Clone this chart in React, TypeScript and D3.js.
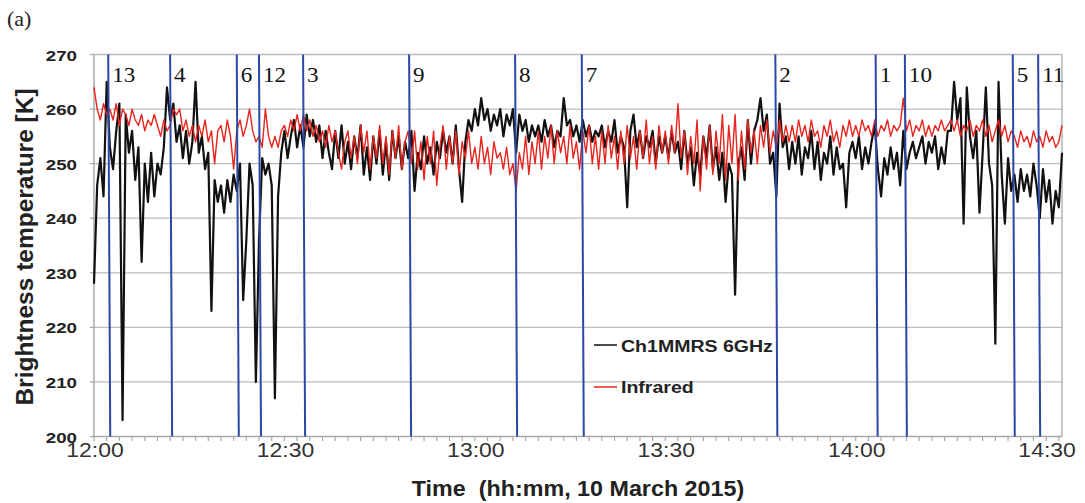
import React from "react";
import * as d3 from "d3";

// minutes after 12:00, one sample every half minute
const STEP = 0.5;
const END_MIN = 152.5;

const ch1 = [
  228, 246, 251, 244, 265, 253, 249, 256, 261, 203, 259, 252, 256, 247, 253, 232, 250, 243, 252, 244,
  250, 248, 253, 264, 258, 261, 254, 257, 251, 256, 250, 254, 265, 252, 255, 249, 252, 223, 247, 243,
  246, 241, 247, 243, 248, 245, 250, 225, 236, 250, 246, 210, 236, 251, 248, 250, 246, 207, 244, 252,
  256, 251, 255, 258, 253, 257, 253, 259, 255, 258, 254, 257, 251, 256, 252, 249, 256, 251, 257, 250,
  254, 249, 255, 251, 257, 248, 253, 247, 255, 250, 256, 248, 254, 247, 256, 251, 255, 249, 254, 251,
  256, 245, 252, 249, 255, 250, 253, 248, 254, 251, 256, 252, 255, 250, 257, 249, 243, 254, 258, 256,
  260, 257, 262, 258, 260, 256, 259, 257, 260, 255, 259, 257, 260, 252, 259, 256, 258, 254, 257, 255,
  257, 254, 258, 255, 257, 253, 256, 255, 262, 257, 258, 255, 257, 254, 258, 255, 257, 254, 256, 255,
  257, 253, 256, 254, 258, 252, 255, 253, 242, 256, 259, 253, 256, 251, 255, 253, 256, 250, 255, 252,
  255, 251, 256, 252, 254, 249, 256, 250, 253, 246, 252, 248, 255, 251, 257, 249, 253, 247, 252, 243,
  250, 248, 226, 250, 253, 247, 258, 250, 256, 258, 262, 256, 259, 250, 252, 244, 261, 253, 255, 249,
  254, 250, 255, 248, 253, 251, 256, 249, 254, 247, 252, 250, 255, 248, 253, 249, 250, 242, 252, 254,
  251, 255, 249, 253, 250, 254, 257, 249, 244, 251, 248, 253, 249, 252, 246, 256, 249, 252, 254, 251,
  253, 255, 250, 254, 252, 255, 249, 253, 250, 256, 256, 265, 258, 262, 239, 264, 255, 251, 256, 241,
  252, 264, 250, 246, 217, 265, 248, 239, 251, 245, 248, 243, 249, 245, 248, 244, 250, 246, 240, 249,
  243, 247, 239, 245, 242, 252,
];

const infrared = [
  264, 260, 258, 261, 259, 260, 258, 261, 257, 260, 259, 257, 260, 258, 257, 259, 256, 258, 257, 259,
  257, 255, 258, 256, 257, 260, 259, 260, 256, 258, 255, 257, 254, 257, 255, 258, 254, 256, 250, 256,
  257, 254, 258, 255, 249, 256, 258, 255, 257, 260, 256, 254, 255, 253, 260, 255, 253, 255, 253, 256,
  257, 255, 258, 256, 259, 256, 259, 256, 258, 255, 257, 254, 256, 253, 257, 254, 256, 252, 249, 254,
  256, 251, 255, 250, 257, 252, 256, 249, 255, 251, 257, 250, 255, 248, 256, 251, 257, 249, 254, 256,
  250, 256, 249, 254, 247, 255, 250, 256, 246, 253, 257, 249, 255, 250, 256, 248, 254, 251, 256, 250,
  253, 249, 255, 250, 253, 248, 254, 251, 252, 249, 253, 248, 250, 245, 252, 249, 255, 248, 254, 250,
  256, 249, 255, 251, 257, 250, 256, 252, 255, 250, 257, 251, 254, 249, 256, 252, 257, 250, 255, 249,
  256, 250, 257, 251, 255, 249, 256, 250, 257, 251, 255, 249, 256, 251, 258, 250, 255, 249, 257, 252,
  256, 250, 257, 252, 261, 251, 256, 248, 255, 250, 258, 245, 255, 249, 257, 248, 256, 250, 259, 247,
  257, 250, 259, 247, 256, 249, 258, 252, 256, 250, 257, 253, 258, 252, 256, 253, 258, 254, 257, 254,
  257, 254, 258, 255, 257, 254, 258, 255, 256, 253, 257, 255, 258, 254, 256, 253, 257, 255, 258, 255,
  257, 255, 258, 256, 257, 255, 258, 255, 257, 256, 258, 255, 257, 256, 257, 262, 256, 258, 255, 257,
  256, 258, 255, 257, 255, 257, 256, 258, 256, 257, 258, 256, 258, 255, 257, 256, 258, 255, 257, 256,
  258, 255, 257, 254, 256, 258, 255, 257, 254, 256, 255, 253, 256, 254, 255, 253, 256, 254, 255, 253,
  256, 254, 255, 253, 254, 257,
];

// numbered vertical markers (minutes after 12:00)
const markerLabels = ["13", "4", "6", "12", "3", "9", "8", "7", "2", "1", "10", "5", "11"];
const markerTimes = [2.4, 12.15, 22.65, 26.15, 33.1, 49.8, 66.5, 77.0, 107.5, 123.3, 127.9, 144.9, 148.9];

const yTicks = [200, 210, 220, 230, 240, 250, 260, 270];
const xTickMinutes = [0, 30, 60, 90, 120, 150];
const xTickLabels = ["12:00", "12:30", "13:00", "13:30", "14:00", "14:30"];
const minorTicks = d3.range(0, 153, 2);

const W = 1085;
const H = 503;
const sans = "'Liberation Sans', Arial, sans-serif";
const serif = "'Liberation Serif', 'Times New Roman', serif";

export default function App() {
  const x = d3.scaleLinear().domain([0, END_MIN]).range([94, 1062]);
  const y = d3.scaleLinear().domain([200, 270]).range([436.5, 54.5]);
  const [x0, x1] = x.range();
  const [yb, yt] = y.range();

  const line = d3
    .line<number>()
    .x((_, i) => x(i * STEP))
    .y((d) => y(d));

  return (
    <div style={{ position: "absolute", left: 0, top: 0 }}>
      <svg width={W} height={H} style={{ display: "block", background: "#fff" }}>
        <text x={7} y={26} fontFamily={serif} fontSize={22} fill="#222">
          (a)
        </text>

        {/* grid */}
        {yTicks.slice(1).map((v) => (
          <line key={v} x1={x0} x2={x1} y1={y(v)} y2={y(v)} stroke="#bdbdbd" strokeWidth={1.3} />
        ))}
        <line x1={x1} x2={x1} y1={yt} y2={yb} stroke="#b5b5b5" strokeWidth={1.5} />

        {/* axes */}
        <line x1={x0} x2={x0} y1={yt} y2={yb} stroke="#a8a8a8" strokeWidth={1.5} />
        <line x1={x0} x2={x1} y1={yb} y2={yb} stroke="#a8a8a8" strokeWidth={1.5} />
        {yTicks.map((v) => (
          <line key={v} x1={x0 - 4} x2={x0} y1={y(v)} y2={y(v)} stroke="#a8a8a8" strokeWidth={1.3} />
        ))}
        {minorTicks.map((m) => (
          <line key={m} x1={x(m)} x2={x(m)} y1={yb} y2={yb + 4.5} stroke="#a8a8a8" strokeWidth={1.2} />
        ))}

        {yTicks.map((v) => (
          <text
            key={v}
            transform={`translate(77,${y(v) + 6}) scale(1.25,1)`}
            textAnchor="end"
            fontFamily={sans}
            fontWeight="bold"
            fontSize={15}
            fill="#222"
          >
            {v}
          </text>
        ))}
        {xTickMinutes.map((m, i) => (
          <text
            key={m}
            transform={`translate(${x(m) + 1},457) scale(1.15,1)`}
            textAnchor="middle"
            fontFamily={sans}
            fontSize={20}
            fill="#333"
          >
            {xTickLabels[i]}
          </text>
        ))}

        <text
          transform="translate(578,496) scale(1.06,1)"
          textAnchor="middle"
          fontFamily={sans}
          fontWeight="bold"
          fontSize={22}
          fill="#222"
          style={{ whiteSpace: "pre" }}
        >
          {"Time  (hh:mm, 10 March 2015)"}
        </text>
        <text
          transform="translate(33,247) rotate(-90)"
          textAnchor="middle"
          fontFamily={sans}
          fontWeight="bold"
          fontSize={24.5}
          fill="#222"
        >
          Brightness temperature [K]
        </text>

        {/* series */}
        <path d={line(ch1) ?? ""} fill="none" stroke="#111" strokeWidth={2.2} strokeLinejoin="round" />
        <path d={line(infrared) ?? ""} fill="none" stroke="#e8241c" strokeWidth={1.4} strokeLinejoin="round" />

        {/* markers */}
        {markerTimes.map((t, i) => (
          <g key={markerLabels[i]}>
            <line
              x1={x(t) - 1}
              x2={x(t) + 1}
              y1={yt}
              y2={yb}
              stroke="#2a48a8"
              strokeWidth={2}
            />
            <text
              transform={`translate(${x(t) + 3},82) scale(1.1,1)`}
              fontFamily={serif}
              fontSize={21}
              fill="#111"
            >
              {markerLabels[i]}
            </text>
          </g>
        ))}

        {/* legend */}
        <line x1={594} x2={617} y1={345} y2={345} stroke="#111" strokeWidth={1.5} />
        <text transform="translate(621,352) scale(1.15,1)" fontFamily={sans} fontWeight="bold" fontSize={17} fill="#222">
          Ch1MMRS 6GHz
        </text>
        <line x1={594} x2={617} y1={387} y2={387} stroke="#e8241c" strokeWidth={1.5} />
        <text transform="translate(621,393) scale(1.15,1)" fontFamily={sans} fontWeight="bold" fontSize={17} fill="#222">
          Infrared
        </text>
      </svg>
    </div>
  );
}
